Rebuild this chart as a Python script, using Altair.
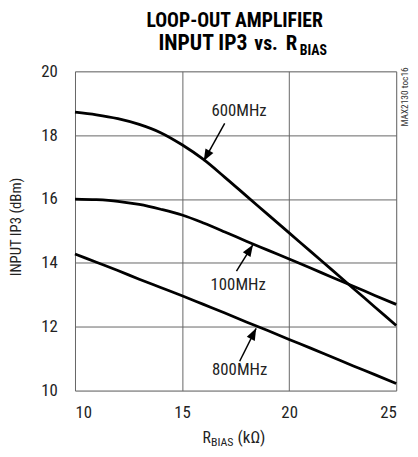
import altair as alt
import pandas as pd

# ---- data ----
r_bias = [10, 11, 12, 13, 14, 15, 16, 17, 18, 19, 20, 21, 22, 23, 24, 25]
ip3_600 = [18.72, 18.64, 18.52, 18.34, 18.08, 17.70, 17.24, 16.68, 16.10, 15.52, 14.94, 14.36, 13.78, 13.20, 12.62, 12.04]
ip3_100 = [16.00, 15.98, 15.93, 15.83, 15.68, 15.50, 15.25, 14.97, 14.68, 14.40, 14.12, 13.84, 13.55, 13.27, 12.98, 12.70]
ip3_800 = [14.28, 14.02, 13.76, 13.49, 13.23, 12.97, 12.70, 12.43, 12.15, 11.88, 11.60, 11.33, 11.05, 10.77, 10.50, 10.22]

series_names = ["600MHz", "100MHz", "800MHz"]
label_x = [17.66, 17.62, 17.69]
label_y = [18.74, 13.30, 10.63]
arrow_tail_x = [16.99, 17.54, 17.69]
arrow_tail_y = [18.37, 13.74, 10.92]
arrow_tip_x = [16.01, 18.31, 18.46]
arrow_tip_y = [17.19, 14.57, 11.95]
arrow_angle = [209, 32, 27]

x_ticks = [10, 15, 20, 25]
y_ticks = [10, 12, 14, 16, 18, 20]

FONT = "Liberation Sans Narrow, Roboto Condensed, Liberation Sans, Arial"

rows = []
for name, vals in zip(series_names, [ip3_600, ip3_100, ip3_800]):
    for x, y in zip(r_bias, vals):
        rows.append({"r": x, "ip3": y, "freq": name})
curves = pd.DataFrame(rows)

labels = pd.DataFrame({"x": label_x, "y": label_y, "t": series_names})
arrows = pd.DataFrame({"x": arrow_tail_x, "y": arrow_tail_y,
                       "x2": arrow_tip_x, "y2": arrow_tip_y, "ang": arrow_angle})

xs = alt.Scale(domain=[10, 25], nice=False, zero=False)
ys = alt.Scale(domain=[10, 20], nice=False, zero=False)

lines = alt.Chart(curves).mark_line(color="black", strokeWidth=2.8, interpolate="monotone").encode(
    x=alt.X("r:Q", scale=xs, axis=alt.Axis(values=x_ticks, title=None, grid=True, ticks=False,
                                           domain=False, labelPadding=14, labelFontSize=17,
                                           labelFont=FONT, labelColor="#222",
                                           gridColor="#666", gridWidth=1, gridOpacity=1)),
    y=alt.Y("ip3:Q", scale=ys, axis=alt.Axis(values=y_ticks, title=None, grid=True, ticks=False,
                                             domain=False, labelPadding=18, labelFontSize=17,
                                             labelFont=FONT, labelColor="#222",
                                             gridColor="#666", gridWidth=1, gridOpacity=1)),
    detail="freq:N",
)

shafts = alt.Chart(arrows).mark_rule(color="black", strokeWidth=1.5).encode(
    x=alt.X("x:Q", scale=xs), y=alt.Y("y:Q", scale=ys), x2="x2:Q", y2="y2:Q")

heads = alt.Chart(arrows).mark_point(shape="M0,0 L-0.38,1 L0.38,1 Z", filled=True, size=576,
                                     color="black", opacity=1).encode(
    x=alt.X("x2:Q", scale=xs), y=alt.Y("y2:Q", scale=ys), angle=alt.Angle("ang:Q", scale=None))

lab = alt.Chart(labels).mark_text(font=FONT, fontSize=17, color="#222", baseline="middle").encode(
    x=alt.X("x:Q", scale=xs), y=alt.Y("y:Q", scale=ys), text="t:N")

one = pd.DataFrame({"a": [0]})

def txt(text, x, y, size, weight="normal", align="left", angle=0, baseline="alphabetic", color="#222"):
    return alt.Chart(one).mark_text(text=text, font=FONT, fontSize=size, fontWeight=weight,
                                    align=align, baseline=baseline, angle=angle, color=color).encode(
        x=alt.value(x), y=alt.value(y))

title1 = txt("LOOP-OUT AMPLIFIER", 162, -45, 20, "bold", "center", color="black")
title2a = txt("INPUT IP3", 175, -22, 22, "bold", "right", color="black")
title2b = txt("vs.", 182, -22, 20, "bold", "left", color="black")
title2c = txt("R", 214, -22, 21, "bold", "left", color="black")
title2s = txt("BIAS", 228, -17, 14, "bold", "left", color="black")
xt1 = txt("R", 138, 377, 16, align="right")
xt2 = txt("BIAS", 138, 380, 12, align="left")
xt3 = txt("(k\u03a9)", 165, 377, 17, align="left")
yt = txt("INPUT IP3 (dBm)", -55, 158, 15, align="center", angle=270)
side = txt("MAX2130 toc16", 338, 26, 9.5, align="center", angle=270, color="#333")

chart = alt.layer(lines, shafts, heads, lab, title1, title2a, title2b, title2c, title2s,
                  xt1, xt2, xt3, yt, side).properties(
    width=326, height=324,
    autosize=alt.AutoSizeParams(type="none"),
    padding={"left": 68, "top": 61, "right": 14, "bottom": 56},
).configure_view(stroke="black", strokeWidth=3).configure(background="white")

chart.save("out.html", embed_options={"renderer": "svg", "actions": False})
